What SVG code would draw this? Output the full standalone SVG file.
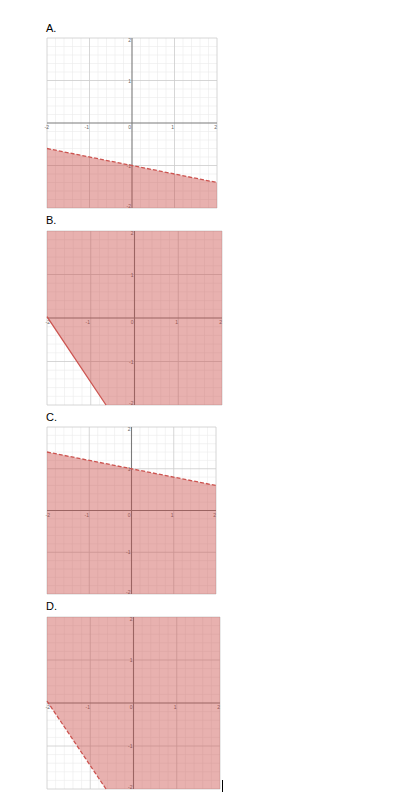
<svg xmlns="http://www.w3.org/2000/svg" width="401" height="805" viewBox="0 0 401 805">
<style>
.minor{fill:none;stroke:#ebebeb;stroke-width:0.6;vector-effect:non-scaling-stroke}
.major{fill:none;stroke:#cbcbcb;stroke-width:0.8;vector-effect:non-scaling-stroke}
.axis{fill:none;stroke:#7a7a7a;stroke-width:1.1;vector-effect:non-scaling-stroke}
.shade{fill:#c74440;fill-opacity:0.42;stroke:none}
.bound{fill:none;stroke:#cc5450;stroke-width:1.3}
.dash{stroke-dasharray:4 2}
.opt{font-family:"Liberation Sans",Arial,sans-serif;font-size:11px;fill:#000}
.tk{font-family:"Liberation Sans",Arial,sans-serif;font-size:5px;fill:#666;text-anchor:end}
</style>
<defs>
<g id="grid">
<path class="minor" d="M2 0V40M4 0V40M6 0V40M8 0V40M12 0V40M14 0V40M16 0V40M18 0V40M22 0V40M24 0V40M26 0V40M28 0V40M32 0V40M34 0V40M36 0V40M38 0V40M0 2H40M0 4H40M0 6H40M0 8H40M0 12H40M0 14H40M0 16H40M0 18H40M0 22H40M0 24H40M0 26H40M0 28H40M0 32H40M0 34H40M0 36H40M0 38H40"/>
<path class="major" d="M0 0V40M10 0V40M30 0V40M40 0V40M0 0H40M0 10H40M0 30H40M0 40H40"/>
<path class="axis" d="M20 0V40M0 20H40"/>
</g>
</defs>

<g id="panelA">
<text class="opt" x="46" y="32">A.</text>
<use href="#grid" transform="translate(47 38) scale(4.25)"/>
<g class="tk">
<text x="49" y="129">-2</text><text x="89" y="129">-1</text><text x="131" y="129">0</text><text x="174" y="129">1</text><text x="217" y="129">2</text>
<text x="131" y="42">2</text><text x="131" y="82.5">1</text><text x="131" y="167.5">-1</text><text x="131" y="208">-2</text>
</g>
<polygon class="shade" points="47,148.5 217,182.5 217,208 47,208"/>
<line class="bound dash" x1="47" y1="148.5" x2="217" y2="182.5"/>
</g>

<g id="panelB">
<text class="opt" x="46" y="224">B.</text>
<use href="#grid" transform="translate(47 231) scale(4.375 4.35)"/>
<g class="tk">
<text x="50" y="324">-2</text><text x="90" y="324">-1</text><text x="133.5" y="324">0</text><text x="178" y="324">1</text><text x="222" y="324">2</text>
<text x="133.5" y="235">2</text><text x="133.5" y="276.5">1</text><text x="133.5" y="363.5">-1</text><text x="133.5" y="405">-2</text>
</g>
<polygon class="shade" points="47,231 222,231 222,405 106,405 47,316.7"/>
<line class="bound" x1="47" y1="316.7" x2="106" y2="405"/>
</g>

<g id="panelC">
<text class="opt" x="46" y="421">C.</text>
<use href="#grid" transform="translate(47 427) scale(4.225 4.175)"/>
<g class="tk">
<text x="50" y="516.5">-2</text><text x="89" y="516.5">-1</text><text x="130.5" y="516.5">0</text><text x="173.5" y="516.5">1</text><text x="216" y="516.5">2</text>
<text x="130.5" y="431">2</text><text x="130.5" y="470.75">1</text><text x="130.5" y="554.25">-1</text><text x="130.5" y="594">-2</text>
</g>
<polygon class="shade" points="47,452 216,485.5 216,594 47,594"/>
<line class="bound dash" x1="47" y1="452" x2="216" y2="485.5"/>
</g>

<g id="panelD">
<text class="opt" x="46" y="610">D.</text>
<use href="#grid" transform="translate(47 617) scale(4.325 4.3)"/>
<g class="tk">
<text x="50" y="709">-2</text><text x="90" y="709">-1</text><text x="132.5" y="709">0</text><text x="176.5" y="709">1</text><text x="220" y="709">2</text>
<text x="132.5" y="621">2</text><text x="132.5" y="662">1</text><text x="132.5" y="748">-1</text><text x="132.5" y="789">-2</text>
</g>
<polygon class="shade" points="47,617 220,617 220,789 106,789 47,701"/>
<line class="bound dash" x1="47" y1="701" x2="106" y2="789"/>
</g>

<g id="connectors"></g>
<line x1="222.5" y1="780" x2="222.5" y2="792" stroke="#000" stroke-width="1"/>
</svg>
